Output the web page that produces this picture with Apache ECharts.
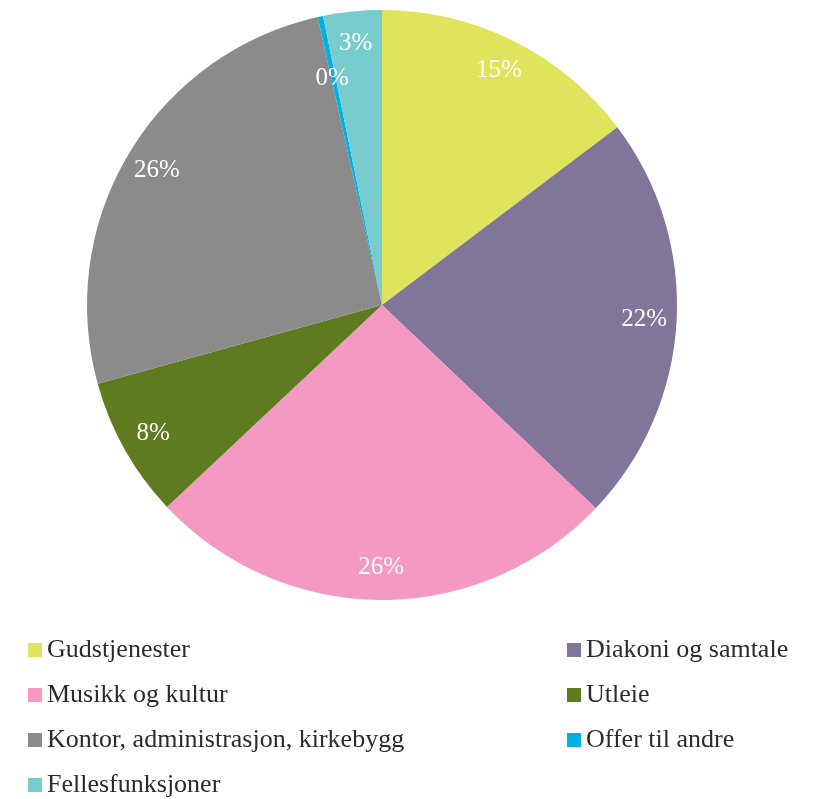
<!DOCTYPE html>
<html>
<head>
<meta charset="utf-8">
<script src="https://cdn.jsdelivr.net/npm/echarts@6/dist/echarts.min.js"></script>
<style>
  html, body { margin: 0; padding: 0; background: #fff; }
  #chart { width: 818px; height: 799px; }
</style>
</head>
<body>
<div id="chart"></div>
<script>
// andel av kostnader, i prosent (lest av figuren)
const categories = ['Gudstjenester', 'Diakoni og samtale', 'Musikk og kultur', 'Utleie',
  'Kontor, administrasjon, kirkebygg', 'Offer til andre', 'Fellesfunksjoner']
const shares = [14.7, 22.4, 25.9, 7.7, 25.8, 0.3, 3.2]
const colors = ['#e0e35c', '#817699', '#f49ac2', '#5f7b1f', '#8b8b8c', '#00b1e1', '#79cccd']

const leftLegend = ['Gudstjenester', 'Musikk og kultur', 'Kontor, administrasjon, kirkebygg', 'Fellesfunksjoner']
const rightLegend = ['Diakoni og samtale', 'Utleie', 'Offer til andre']

const font = '"Liberation Serif", "DejaVu Serif", serif'

const chart = echarts.init(document.getElementById('chart'))

const legendStyle = {
  orient: 'vertical',
  top: 637,
  height: 170,
  padding: 0,
  itemWidth: 14,
  itemHeight: 14,
  itemGap: 19,
  icon: 'rect',
  selectedMode: false,
  textStyle: { fontFamily: font, fontSize: 26, color: '#2b2b2b', lineHeight: 26 }
}

chart.setOption({
  animation: false,
  legend: [
    Object.assign({ left: 28, data: leftLegend }, legendStyle),
    Object.assign({ left: 567, data: rightLegend }, legendStyle)
  ],
  series: [
    {
      type: 'pie',
      center: [382, 305],
      radius: [0, 295],
      startAngle: 90,
      label: { show: false },
      labelLine: { show: false },
      data: categories.map((name, i) => ({ name, value: shares[i], itemStyle: { color: colors[i] } }))
    },
    {
      // usynlig ring som bare plasserer prosentetikettene lenger ut
      type: 'pie',
      center: [382, 305],
      radius: [224, 295],
      startAngle: 90,
      silent: true,
      legendHoverLink: false,
      itemStyle: { color: 'rgba(0,0,0,0)' },
      label: {
        show: true,
        position: 'inside',
        color: '#fff',
        fontFamily: font,
        fontSize: 25,
        formatter: p => Math.round(p.value) + '%'
      },
      labelLine: { show: false },
      data: categories.map((name, i) => {
        const item = { name, value: shares[i] }
        if (name === 'Offer til andre') item.label = { offset: [5, 30] }
        return item
      })
    }
  ]
})
</script>
</body>
</html>
